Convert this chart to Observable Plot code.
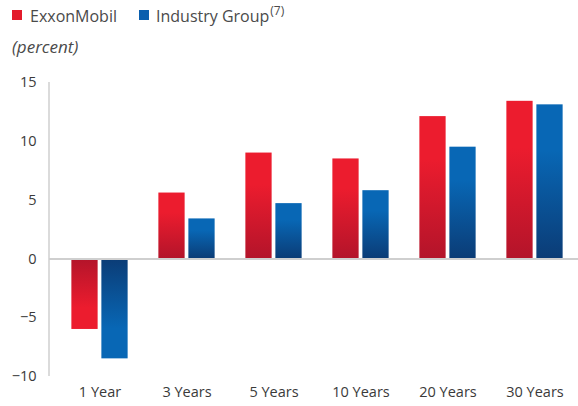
<!DOCTYPE html>
<html><head><meta charset="utf-8">
<script src="https://cdn.jsdelivr.net/npm/d3@7"></script>
<script src="https://cdn.jsdelivr.net/npm/@observablehq/plot@0.6"></script>
<style>
body{margin:0;background:#fff;font-family:"Open Sans",sans-serif;}
#wrap{position:relative;width:578px;height:406px;overflow:hidden;}
#head{position:relative;height:62px;}
.sw{position:absolute;width:10px;height:10px;top:10px;}
.lt{position:absolute;top:6px;line-height:20px;font-size:16px;color:#4a4a4a;white-space:nowrap;}
.lt sup{font-size:12px;vertical-align:7px;line-height:0;margin-left:1px;}
#pct{position:absolute;left:12px;top:37px;line-height:20px;font-size:17px;font-style:italic;color:#4a4a4a;}
#chart svg{display:block;}
</style></head><body>
<div id="wrap">
  <div id="head">
    <div class="sw" style="left:12px;background:#e31b2b"></div>
    <div class="lt" style="left:30px">ExxonMobil</div>
    <div class="sw" style="left:139px;background:#0a5fae"></div>
    <div class="lt" style="left:156px">Industry Group<sup>(7)</sup></div>
    <div id="pct">(percent)</div>
  </div>
  <div id="chart"></div>
</div>
<script>
const periods = ["1 Year", "3 Years", "5 Years", "10 Years", "20 Years", "30 Years"];
const seriesNames = ["ExxonMobil", "Industry Group"];
const exxonMobil = [-6.0, 5.6, 9.0, 8.5, 12.1, 13.4];
const industryGroup = [-8.5, 3.4, 4.7, 5.8, 9.5, 13.1];
const yTicks = [-10, -5, 0, 5, 10, 15];

const rows = periods.flatMap((p, i) => [
  {period: p, series: seriesNames[0], value: exxonMobil[i]},
  {period: p, series: seriesNames[1], value: industryGroup[i]}
]);

const gradIds = {
  "ExxonMobil": {pos: "url(#redPos)", neg: "url(#redNeg)", dx: -15},
  "Industry Group": {pos: "url(#bluePos)", neg: "url(#blueNeg)", dx: 15}
};

const barMarks = [];
for (const s of seriesNames) {
  for (const sign of ["pos", "neg"]) {
    const sub = rows.filter(d => d.series === s && (sign === "pos" ? d.value >= 0 : d.value < 0));
    barMarks.push(Plot.barY(sub, {
      x: "period", y: "value",
      fill: gradIds[s][sign],
      insetLeft: 30.37, insetRight: 30.37,
      dx: gradIds[s].dx
    }));
  }
}

const yAxisLine = (index, scales, values, dims) => {
  const g = d3.create("svg:g");
  g.append("line")
    .attr("x1", dims.marginLeft).attr("x2", dims.marginLeft)
    .attr("y1", scales.y(yTicks[yTicks.length - 1])).attr("y2", scales.y(yTicks[0]))
    .attr("stroke", "#cfcfcf").attr("stroke-width", 1.5);
  return g.node();
};

const chart = Plot.plot({
  width: 578,
  height: 344,
  marginTop: 20,
  marginBottom: 30,
  marginLeft: 49,
  marginRight: 0,
  style: {fontFamily: "Open Sans", fontSize: "14.5px", color: "#3a3a3a", background: "#fff"},
  x: {type: "band", domain: periods, range: [53.6, 580], padding: 0},
  y: {domain: [-10, 15]},
  marks: [
    yAxisLine,
    ...barMarks,
    Plot.ruleY([0], {stroke: "#cfcfcf", strokeWidth: 2}),
    Plot.axisY({ticks: yTicks, tickSize: 0, tickPadding: 13, fontSize: 14.5, label: null, fill: "#3a3a3a"}),
    Plot.axisX({tickSize: 0, tickPadding: 10, fontSize: 14.5, label: null, fill: "#3a3a3a"})
  ]
});

const defs = d3.select(chart).insert("defs", ":first-child");
function grad(id, bright, dark, positive) {
  const lg = defs.append("linearGradient").attr("id", id)
    .attr("x1", 0).attr("y1", 0).attr("x2", 0).attr("y2", 1);
  const stops = positive
    ? [[0, bright], [0.3, bright], [1, dark]]
    : [[0, dark], [0.7, bright], [1, bright]];
  for (const [o, c] of stops) lg.append("stop").attr("offset", o).attr("stop-color", c);
}
grad("redPos", "#ec1c2e", "#b3142a", true);
grad("redNeg", "#ec1c2e", "#b3142a", false);
grad("bluePos", "#0867b5", "#0b3c76", true);
grad("blueNeg", "#0867b5", "#0b3c76", false);

document.getElementById("chart").appendChild(chart);
</script>
</body></html>
